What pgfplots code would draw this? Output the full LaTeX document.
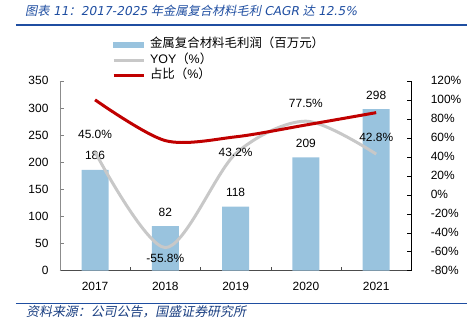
\documentclass[border=0pt]{standalone}
\usepackage{pgfplots}
\pgfplotsset{compat=1.18}
\usepackage{fontspec}
\setmainfont{Liberation Sans}
\newfontfamily\cjk{Noto Sans CJK SC}
\newfontfamily\cjkit[FakeSlant=0.2]{Noto Sans CJK SC}
\newfontfamily\dvit[FakeSlant=0.2]{DejaVu Sans}
\definecolor{barblue}{RGB}{153,195,222}
\definecolor{yoygray}{RGB}{200,200,200}
\definecolor{redline}{RGB}{192,0,0}
\definecolor{titleblue}{RGB}{31,78,161}
\pgfplotsset{linelegend/.style={legend image code/.code={\draw[##1] (0bp,0bp) -- (30bp,0bp);}}}
\begin{document}
\begin{tikzpicture}
\path (0bp,0bp) rectangle (468bp,333bp);
\node[anchor=west, inner sep=0pt, text=titleblue] at (25bp,322bp) {\fontsize{12.3}{14}\selectfont{\cjkit 图表}~{\dvit 11}{\cjkit ：}{\dvit 2017-2025}~{\cjkit 年金属复合材料毛利}~{\dvit CAGR}~{\cjkit 达}~{\dvit 12.5\%}};
\draw[titleblue, line width=1.5bp] (16bp,308bp) -- (468bp,308bp);
\draw[titleblue, line width=1.2bp] (16bp,29bp) -- (468bp,29bp);
\node[anchor=west, inner sep=0pt, text=titleblue!80!black] at (26bp,20.5bp) {\cjkit\fontsize{13}{14}\selectfont 资料来源：公司公告，国盛证券研究所};
\begin{axis}[
  at={(60bp,62bp)}, anchor=south west, scale only axis,
  width=352bp, height=190bp,
  xmin=-0.5, xmax=4.5, ymin=0, ymax=350,
  axis x line*=bottom, axis y line*=left,
  xtick={0,1,2,3,4}, xticklabels={2017,2018,2019,2020,2021},
  minor xtick={0.5,1.5,2.5,3.5},
  ytick={0,50,...,350},
  tick align=inside, major tick length=4bp, minor tick length=4bp,
  x tick style={draw=none},
  minor x tick style={draw=black!70},
  y tick style={black!50},
  x axis line style={black!70},
  y axis line style={black!45},
  /pgf/number format/assume math mode=true,
  tick label style={font=\fontsize{12}{14}\selectfont},
  yticklabel style={xshift=-8bp},
  xticklabel style={yshift=-8bp},
  clip=false,
]
\addplot[ybar, bar width=27bp, fill=barblue, draw=none,
  nodes near coords,
  nodes near coords style={anchor=center, yshift=14bp, font=\fontsize{12}{14}\selectfont, text=black}]
  coordinates {(0,186) (1,82) (2,118) (3,209) (4,298)};
\end{axis}
\begin{axis}[
  at={(60bp,62bp)}, anchor=south west, scale only axis,
  width=352bp, height=190bp,
  xmin=-0.5, xmax=4.5, ymin=-80, ymax=120,
  axis x line=none, axis y line*=right,
  ytick={-80,-60,...,120},
  yticklabel={\pgfmathprintnumber{\tick}\%},
  tick align=inside, major tick length=4bp,
  y tick style={black},
  y axis line style={black},
  /pgf/number format/assume math mode=true,
  tick label style={font=\fontsize{12}{14}\selectfont},
  yticklabel style={xshift=16bp},
  clip=false,
  legend cell align=left,
  legend style={at={(axis description cs:0.148,1.222)}, anchor=north west,
    draw=none, fill=none, inner sep=0pt, row sep=3.5bp,
    font=\cjk\fontsize{12.5}{14}\selectfont,
    nodes={inner sep=0pt, text height=9bp, text depth=3bp},
    /tikz/every odd column/.append style={column sep=5bp}},
]
\addlegendimage{legend image code/.code={\fill[barblue] (0bp,-2.5bp) rectangle (30bp,2.5bp);}}
\addlegendentry{金属复合材料毛利润（百万元）}
\addplot[color=yoygray, line width=3bp, smooth, linelegend,
  point meta=explicit symbolic,
  nodes near coords={\pgfplotspointmeta\%},
  visualization depends on=value \thisrow{dy}\as\dy,
  nodes near coords style={anchor=center, yshift=\dy bp, text=black, font=\fontsize{12}{14}\selectfont}]
  table[x=x, y=y, meta=lab] {
x y lab dy
0 45.0 45.0 18
1 -55.8 -55.8 -10.5
2 43.2 43.2 1
3 77.5 77.5 18
4 42.8 42.8 17
};
\addlegendentry{{\rmfamily YOY}（{\rmfamily\%}）}
\addplot[color=redline, line width=3bp, smooth, linelegend]
  coordinates {(0,100) (1,57) (2,61) (3,73.5) (4,86.5)};
\addlegendentry{占比（{\rmfamily\%}）}
\end{axis}
\end{tikzpicture}
\end{document}
